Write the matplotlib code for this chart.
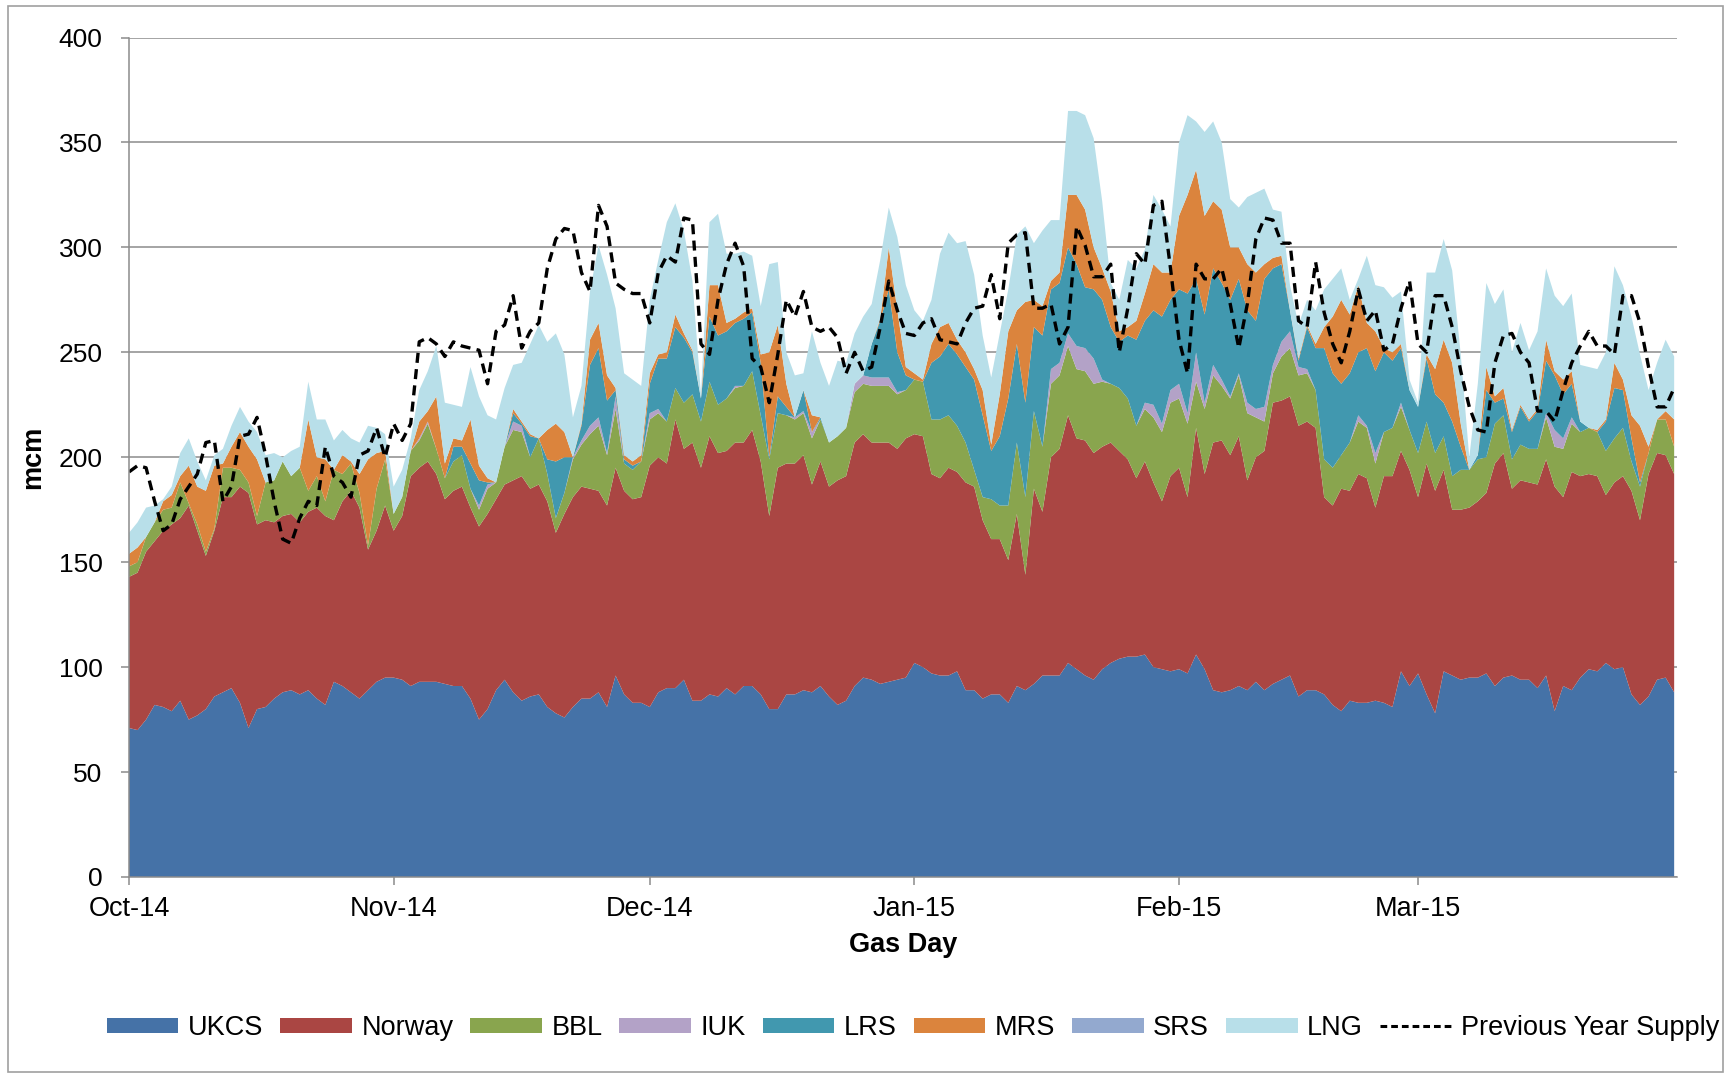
import numpy as np
import pandas as pd
import matplotlib
matplotlib.use("Agg")
import matplotlib.pyplot as plt
from matplotlib.patches import Rectangle, Patch
from matplotlib.lines import Line2D

# ---------------- data (mcm) ----------------
gas_days = pd.date_range("2014-10-01", "2015-03-31", freq="D")

# Stack tops (cumulative levels)
ukcs_top = [71,70,75,82,81,79,84,75,77,80,86,88,90,83,71,80,81,85,88,89,87,89,85,82,93,91,88,85,89,93,95,
            95,94,91,93,93,93,92,91,91,85,75,80,89,94,88,84,86,87,81,78,76,81,85,85,88,81,96,87,83,83,
            81,88,90,90,94,84,84,87,86,90,87,91,91,87,80,80,87,87,89,88,91,86,82,84,91,95,94,92,93,94,
            95,102,100,97,96,96,98,89,89,85,87,87,83,91,89,92,96,96,96,102,99,96,94,99,102,104,105,105,106,100,99,
            98,99,97,106,99,89,88,89,91,89,93,89,92,94,96,86,89,89,87,82,79,84,83,83,84,83,81,98,91,97,
            87,78,98,96,94,95,95,97,91,95,96,94,94,90,96,79,91,89,95,99,98,102,99,100,87,82,86,94,95,88]
norway_top = [143,145,155,160,165,168,171,177,165,153,165,181,181,186,183,168,170,169,172,173,169,174,176,172,170,179,184,176,156,165,177,
              165,172,191,195,198,192,180,184,186,176,167,173,180,187,189,191,185,187,179,164,173,181,186,185,184,177,195,184,180,181,
              196,200,197,218,204,207,195,210,202,203,207,207,213,198,172,195,197,197,201,187,198,186,189,191,207,211,207,207,207,204,
              209,211,210,192,190,195,193,188,186,170,161,161,151,173,144,185,174,200,204,220,209,208,202,205,207,203,199,190,198,188,179,
              191,195,181,214,192,207,208,201,210,189,200,203,226,227,229,215,217,214,181,177,185,184,192,190,176,191,191,203,194,181,
              197,184,194,175,175,176,179,183,197,202,185,189,188,187,199,186,181,193,191,192,191,182,188,191,184,170,192,202,201,192]
bbl_top = [148,150,162,169,175,176,188,178,168,155,166,195,195,194,188,172,188,189,198,191,195,184,191,179,194,192,197,183,158,185,199,
           173,181,203,208,216,204,190,198,201,185,175,185,188,205,213,212,200,209,192,171,183,199,206,211,215,201,223,197,194,198,
           218,221,217,233,226,230,217,236,225,228,233,234,241,220,199,221,220,218,221,209,218,207,210,214,231,235,234,234,234,230,
           232,237,236,218,218,220,215,207,194,181,180,177,177,207,181,222,205,235,239,253,242,241,235,236,235,233,228,215,223,219,212,
           226,228,216,236,223,239,234,228,239,221,219,217,240,248,252,239,240,232,199,195,201,207,217,214,197,212,214,224,213,202,
           217,202,210,191,194,194,199,200,216,220,199,206,204,204,219,205,204,216,212,214,212,203,209,214,198,186,202,218,218,205]
iuk_top = [148,150,162,169,175,176,188,178,168,155,166,195,195,194,188,172,188,189,198,191,195,184,191,179,194,192,197,183,158,185,199,
           173,181,203,209,217,204,190,198,201,185,177,187,188,205,217,215,200,209,192,171,183,200,208,215,219,202,229,197,194,198,
           221,223,217,233,226,230,217,236,225,228,234,234,241,220,199,221,220,219,222,212,218,207,210,214,235,239,238,238,238,231,
           232,237,236,218,218,220,215,207,194,181,180,177,177,207,181,222,205,242,245,259,253,252,247,237,235,233,228,215,226,225,216,
           232,235,221,250,226,244,237,229,240,226,223,224,244,255,260,243,242,232,199,195,201,207,220,215,202,212,214,226,213,202,
           217,202,210,191,194,194,199,200,216,220,199,206,204,204,221,213,209,219,212,214,212,203,209,214,198,186,202,218,218,205]
lrs_top = [148,150,162,169,175,176,188,178,168,155,166,195,195,194,188,172,188,189,198,191,195,184,191,179,194,192,197,183,158,185,199,
           173,181,203,209,217,204,190,205,205,197,189,188,188,205,221,216,210,209,199,198,200,200,215,244,252,227,232,199,196,198,
           235,247,247,262,257,250,228,267,258,260,264,266,269,245,200,229,224,219,232,212,219,207,210,214,235,239,254,265,280,250,
           239,237,236,245,248,254,249,243,237,220,203,210,228,254,226,262,258,280,283,300,292,281,280,275,262,255,258,256,265,270,267,
           275,280,278,285,268,290,283,275,285,270,265,285,290,292,270,246,262,252,252,240,235,240,250,252,241,250,246,252,232,224,
           247,230,226,217,205,194,201,232,226,228,212,224,217,222,246,239,230,235,217,214,212,217,233,232,209,188,202,218,218,205]
mrs_top = [154,157,162,169,179,182,191,196,186,184,196,197,205,212,205,199,188,189,198,191,195,218,200,199,194,201,198,192,199,202,203,
           173,181,203,217,222,229,197,209,208,218,196,190,188,205,223,217,211,209,213,216,212,200,216,256,264,239,233,201,198,201,
           240,249,250,268,259,251,228,282,282,264,266,269,271,249,250,263,235,219,232,220,219,207,210,214,235,239,254,266,300,270,
           243,240,237,254,262,264,256,250,242,232,206,230,260,270,274,275,272,284,288,325,325,318,300,290,279,260,262,265,278,292,288,
           288,315,325,337,315,322,318,300,300,292,288,292,295,296,270,247,263,254,262,267,275,268,282,264,260,252,250,254,232,224,
           249,242,256,245,216,194,201,243,229,233,213,225,218,223,256,241,237,241,217,214,213,218,245,237,220,215,205,218,222,218]
srs_top = mrs_top  # SRS flows are not visible on the chart (zero)
lng_top = [164,169,176,177,180,186,202,209,198,189,201,204,215,224,217,212,201,202,200,203,205,236,218,218,208,213,209,207,215,214,211,
           186,194,209,232,241,253,226,225,224,243,229,220,218,233,244,245,254,263,255,259,249,219,234,279,301,287,271,240,237,234,
           275,294,312,321,308,284,230,312,316,297,297,298,296,272,292,293,250,239,240,260,245,234,246,245,259,267,273,294,319,305,
           282,270,265,275,297,307,302,303,287,258,238,259,280,306,310,302,308,313,313,365,365,363,352,322,283,275,294,290,299,325,318,
           310,350,363,360,355,360,350,323,319,324,326,328,318,317,282,263,275,270,280,285,290,275,285,296,282,281,276,279,237,226,
           288,288,304,289,249,200,235,283,273,280,250,264,251,260,290,277,272,278,244,243,242,250,291,282,267,249,232,245,256,248]
previous_year_supply = [193,196,195,179,165,168,180,186,192,207,208,179,186,210,211,219,201,179,161,159,171,179,177,205,191,188,181,201,203,214,200,
                        216,208,216,255,257,254,248,255,253,252,251,235,260,263,277,252,260,264,290,304,309,308,288,279,320,310,283,280,278,278,
                        264,288,296,293,314,313,254,249,275,292,302,291,247,243,226,249,275,267,279,262,260,262,257,240,250,241,243,262,284,270,
                        259,258,264,266,256,255,254,264,271,272,287,266,302,306,307,271,271,273,254,262,310,301,286,286,292,250,271,297,292,320,322,
                        290,256,240,292,285,285,290,273,252,273,304,314,313,302,302,265,262,293,269,254,245,260,280,265,270,251,254,271,284,254,
                        250,277,277,262,241,224,213,212,245,258,259,250,245,222,222,217,232,245,253,260,253,253,249,277,277,264,243,224,224,233]

series_names = ["UKCS", "Norway", "BBL", "IUK", "LRS", "MRS", "SRS", "LNG"]
series_colors = ["#4572A7", "#AA4643", "#89A54E", "#B3A2C7", "#4198AF", "#DB843D", "#93A9CF", "#B8DFE9"]
month_starts = pd.to_datetime(["2014-10-01", "2014-11-01", "2014-12-01",
                               "2015-01-01", "2015-02-01", "2015-03-01"])
month_labels = ["Oct-14", "Nov-14", "Dec-14", "Jan-15", "Feb-15", "Mar-15"]

# individual flows = differences between consecutive stack levels
tops = np.array([ukcs_top, norway_top, bbl_top, iuk_top, lrs_top, mrs_top, srs_top, lng_top], dtype=float)
flows = np.diff(np.vstack([np.zeros(tops.shape[1]), tops]), axis=0)

# ---------------- figure ----------------
FONT = ["Liberation Sans", "Arial", "DejaVu Sans"]
plt.rcParams["font.family"] = FONT
W, H = 1730, 1075
fig = plt.figure(figsize=(W / 100, H / 100), dpi=100)
ax = fig.add_axes([129 / W, 1 - 877 / H, (1677 - 129) / W, (877 - 37.5) / H])

grid_c = "#8C8C8C"
ax.stackplot(gas_days, flows, colors=series_colors, labels=series_names, linewidth=0)
ax.plot(gas_days, previous_year_supply, color="black", lw=2.4,
        linestyle=(0, (3.0, 1.9)), label="Previous Year Supply")

ax.set_ylim(0, 400)
ax.set_yticks(np.arange(0, 401, 50))
ax.set_xlim(gas_days[0], gas_days[-1] + pd.Timedelta(hours=8))
ax.set_xticks(month_starts)
ax.set_xticklabels(month_labels)

ax.set_axisbelow(True)
ax.yaxis.grid(True, color=grid_c, lw=1.1)
for s in ["top", "right"]:
    ax.spines[s].set_visible(False)
for s in ["left", "bottom"]:
    ax.spines[s].set_color(grid_c)
    ax.spines[s].set_linewidth(1.1)
ax.tick_params(axis="y", length=6, width=1.1, color=grid_c, labelsize=19, pad=13)
ax.tick_params(axis="x", length=6, width=1.1, color=grid_c, labelsize=19.5, pad=8)

fig.text(33 / W, 1 - 457 / H, "mcm", rotation=90, ha="center", va="center",
         fontsize=19.5, fontweight="bold")
fig.text(903 / W, 1 - 945 / H, "Gas Day", ha="center", va="center",
         fontsize=19.5, fontweight="bold")

handles = [Patch(facecolor=c, edgecolor="none") for c in series_colors]
handles.append(Line2D([0], [0], color="black", lw=2.2, linestyle=(0, (2.2, 1.3))))
labels = series_names + ["Previous Year Supply"]
fig.legend(handles, labels, loc="center", bbox_to_anchor=(913 / W, 1 - 1028 / H),
           ncol=9, frameon=False, fontsize=19.5, handlelength=2.65, handleheight=0.5,
           handletextpad=0.35, columnspacing=0.62)

# chart-area border
fig.patches.append(Rectangle((8 / W, 3 / H), (1723 - 8) / W, (1072 - 6) / H,
                             transform=fig.transFigure, fill=False,
                             edgecolor="#A0A0A0", lw=1.2))

fig.savefig("out.png", dpi=100)
